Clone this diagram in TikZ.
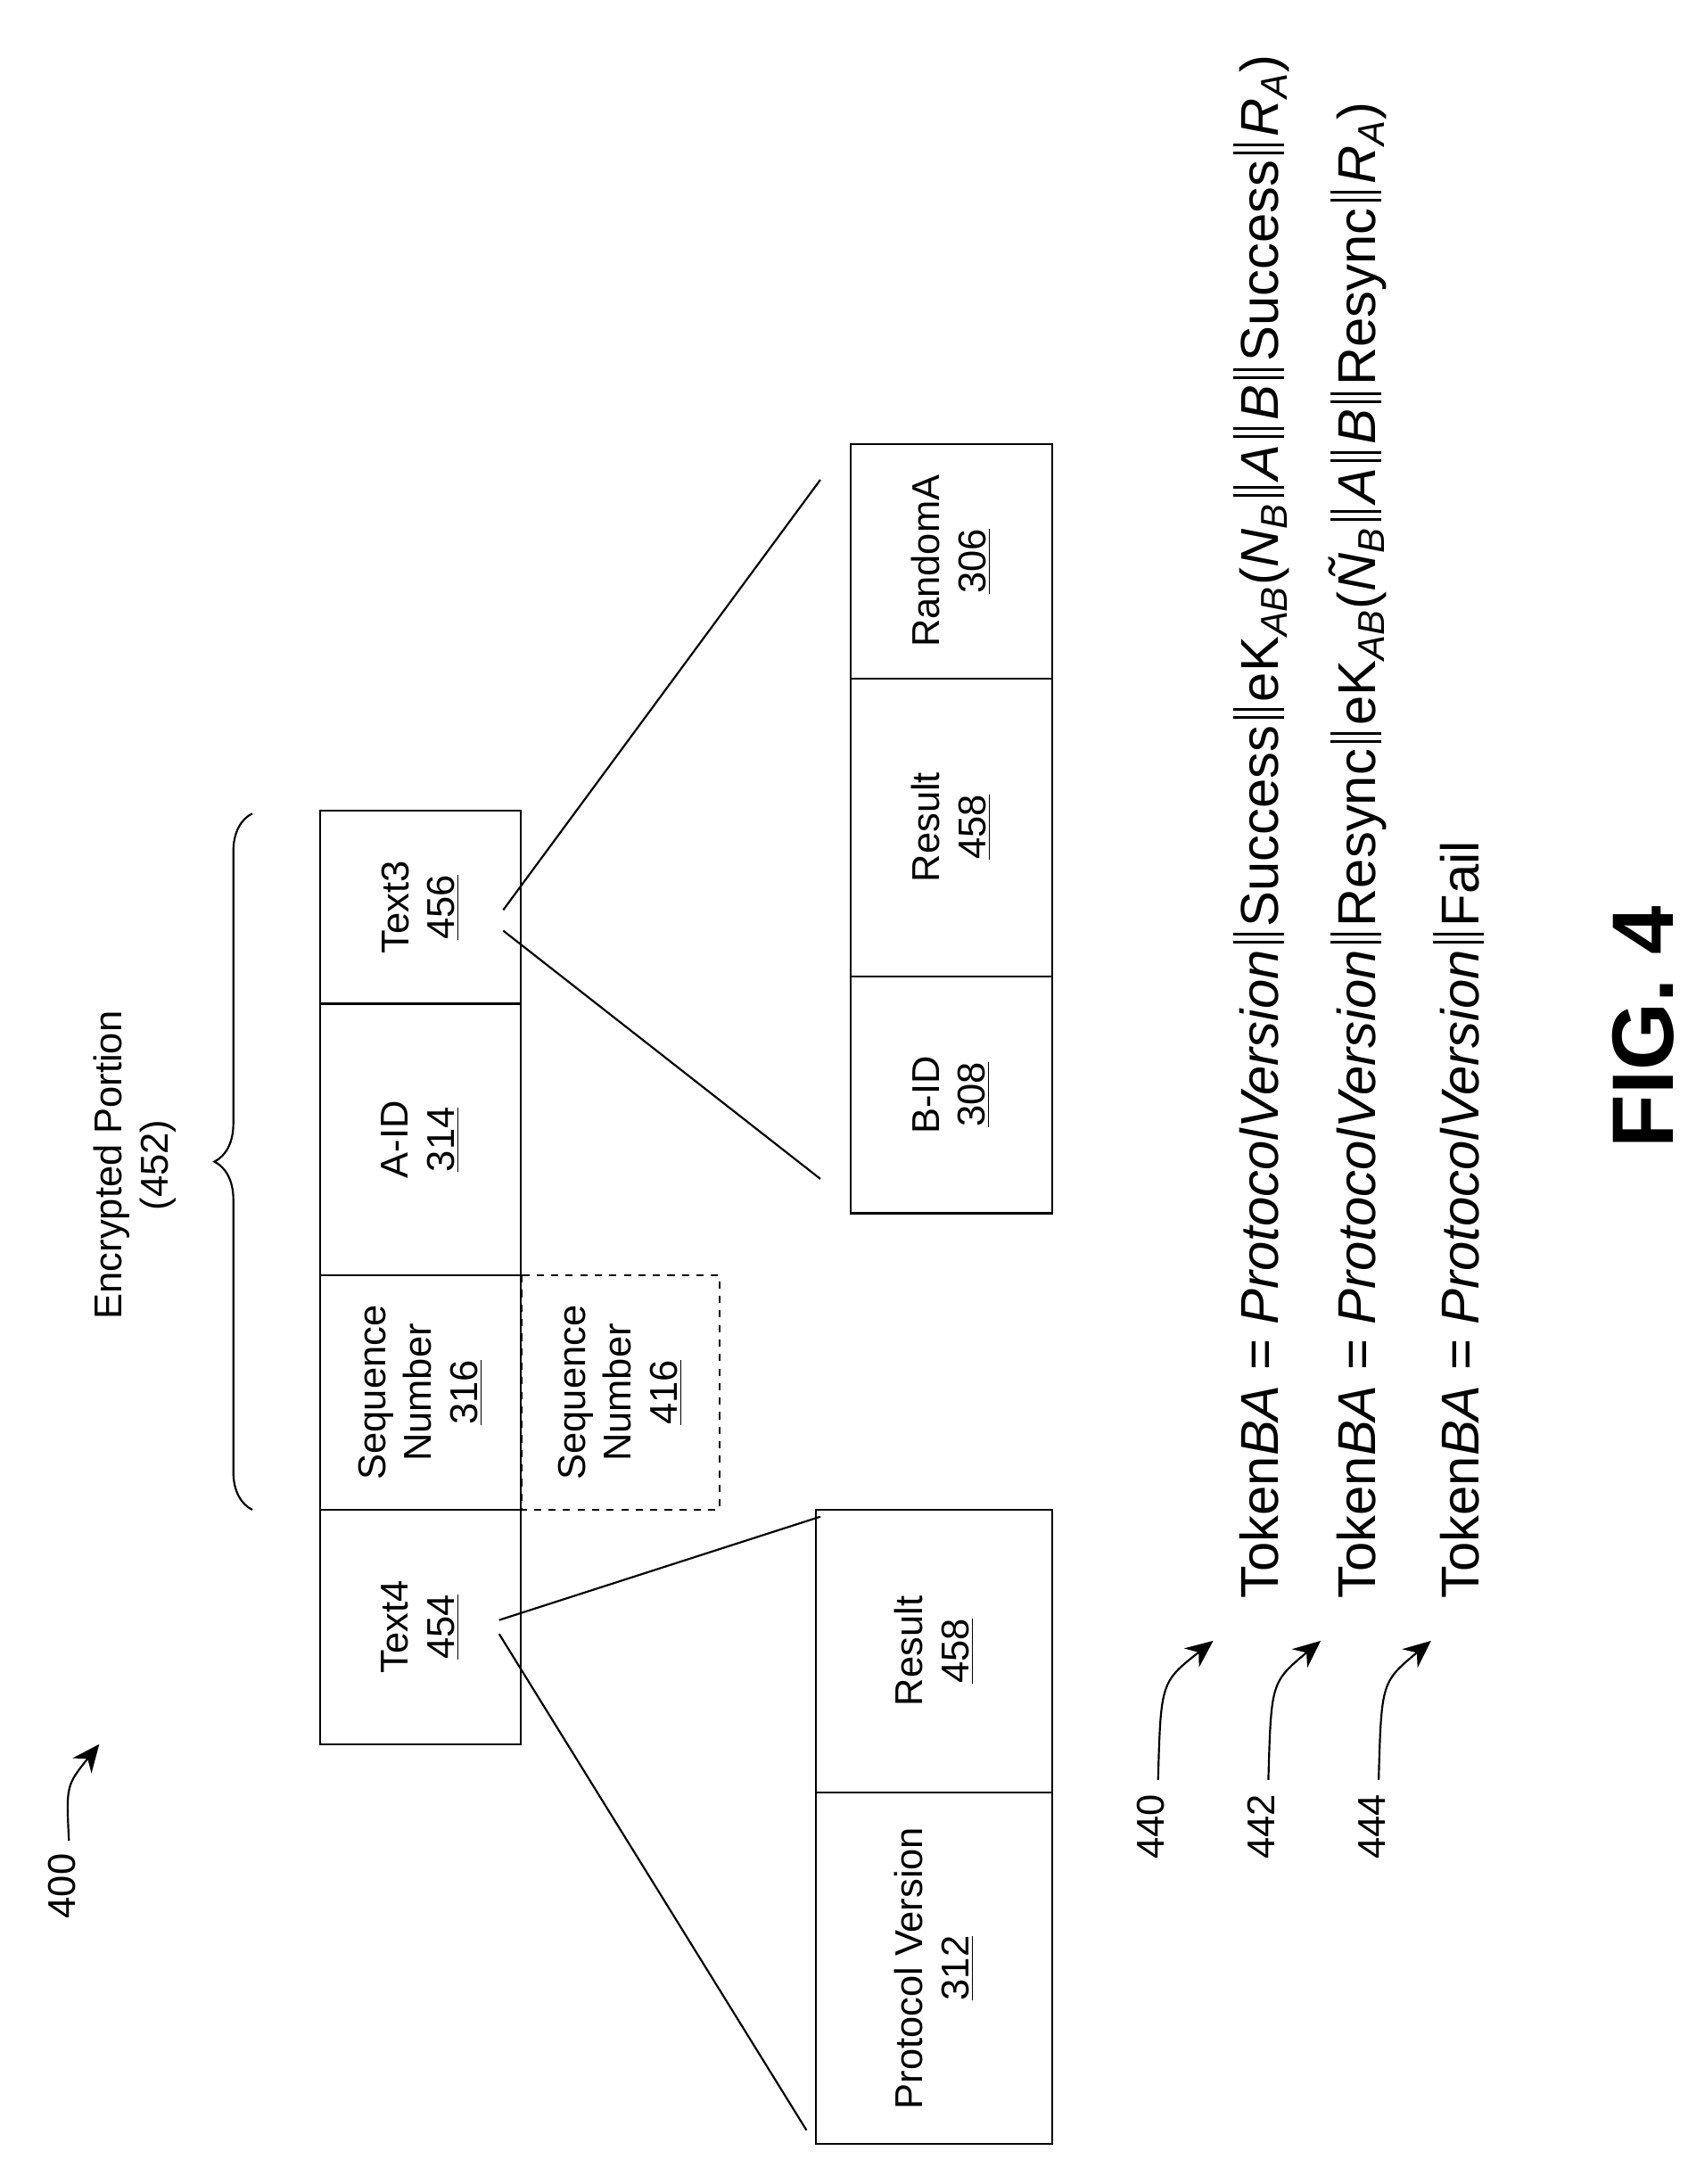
\documentclass[tikz,border=0pt]{standalone}
\usepackage{fontspec}
\setmainfont{Liberation Sans}
\usetikzlibrary{arrows.meta,decorations.pathreplacing}
\newcommand{\bb}{\hspace{0.12em}\rule[-0.1em]{0.05em}{0.95em}\hspace{0.1em}\rule[-0.1em]{0.05em}{0.95em}\hspace{0.12em}}
\newcommand{\sbi}[1]{\textsubscript{\textit{#1}}}
\begin{document}
\begin{tikzpicture}[x=0.02cm, y=-0.02cm, >={Stealth[length=4mm,width=3.5mm]}, thick]
	\tikzstyle{fld} = [draw = black, rotate = 90, align = center, inner sep = 0pt, font = \fontsize{16}{19}\selectfont]
	\tikzstyle{tok} = [rotate = 90, anchor = west, inner sep = 0pt, font = \fontsize{22}{26}\selectfont]
	\tikzstyle{lbl} = [rotate = 90, inner sep = 0pt, align = center, font = \fontsize{16}{19}\selectfont]
	\useasboundingbox (0,0) rectangle (1224,1584);
	% top row
	\node [fld, minimum width = 2.8cm, minimum height = 2.92cm] (T3) at (305,658) {Text3\\\underline{456}};
	\node [fld, minimum width = 3.94cm, minimum height = 2.92cm] (AID) at (305,826.5) {A-ID\\\underline{314}};
	\node [fld, minimum width = 3.4cm, minimum height = 2.92cm] (SQ) at (305,1010) {Sequence\\Number\\\underline{316}};
	\node [fld, minimum width = 3.4cm, minimum height = 2.92cm] (T4) at (305,1180) {Text4\\\underline{454}};
	\node [fld, dashed, minimum width = 3.4cm, minimum height = 2.88cm] (SQ2) at (450,1010) {Sequence\\Number\\\underline{416}};
	% expanded Text3
	\node [fld, minimum width = 3.4cm, minimum height = 2.92cm] (RA) at (690,407) {RandomA\\\underline{306}};
	\node [fld, minimum width = 4.32cm, minimum height = 2.92cm] (RS) at (690,600) {Result\\\underline{458}};
	\node [fld, minimum width = 3.44cm, minimum height = 2.92cm] (BID) at (690,794) {B-ID\\\underline{308}};
	% expanded Text4
	\node [fld, minimum width = 4.1cm, minimum height = 3.42cm] (RS2) at (677.5,1197.5) {Result\\\underline{458}};
	\node [fld, minimum width = 5.1cm, minimum height = 3.42cm] (PV) at (677.5,1427.5) {Protocol Version\\\underline{312}};
	\coordinate (c3a) at (365,660);
	\coordinate (c3b) at (365,675);
	\coordinate (c4a) at (362,1175);
	\coordinate (c4b) at (362,1185);
	\coordinate (e3a) at (595,348);
	\coordinate (e3b) at (595,855);
	\coordinate (e4a) at (595,1100);
	\coordinate (e4b) at (585,1545);
	\draw (c3a) -- (e3a);
	\draw (c3b) -- (e3b);
	\draw (c4a) -- (e4a);
	\draw (c4b) -- (e4b);
	% brace
	\draw [decorate, decoration = {brace, amplitude = 0.55cm}] (183,1095) -- (183,590);
	\node [lbl] (EP) at (98,845) {Encrypted Portion\\(452)};
	% labels
	\node [lbl] (L400) at (45,1368) {400};
	\coordinate (a400) at (72,1265);
	\draw [->] (50,1335) .. controls (48,1295) .. (a400);
	\node [tok] (F1) at (915,1160) {Token\textit{BA} = \textit{ProtocolVersion}\bb Success\bb eK\sbi{AB}(\textit{N}\sbi{B}\bb\textit{A}\bb\textit{B}\bb Success\bb\textit{R}\sbi{A})};
	\node [tok] (F2) at (985,1160) {Token\textit{BA} = \textit{ProtocolVersion}\bb Resync\bb eK\sbi{AB}(\textit{\~N}\sbi{B}\bb\textit{A}\bb\textit{B}\bb Resync\bb\textit{R}\sbi{A})};
	\node [tok] (F3) at (1058,1160) {Token\textit{BA} = \textit{ProtocolVersion}\bb Fail};
	\node [lbl] (L440) at (835,1325) {440};
	\node [lbl] (L442) at (915,1325) {442};
	\node [lbl] (L444) at (995,1325) {444};
	\draw [->] (L440.east) ++(5,-10) .. controls (842,1220) .. (880,1190);
	\draw [->] (L442.east) ++(5,-10) .. controls (922,1220) .. (958,1190);
	\draw [->] (L444.east) ++(5,-10) .. controls (1002,1220) .. (1038,1190);
	\node [rotate = 90, font = \fontsize{36}{40}\bfseries] (FIG) at (1192,745) {FIG. 4};
\end{tikzpicture}
\end{document}
